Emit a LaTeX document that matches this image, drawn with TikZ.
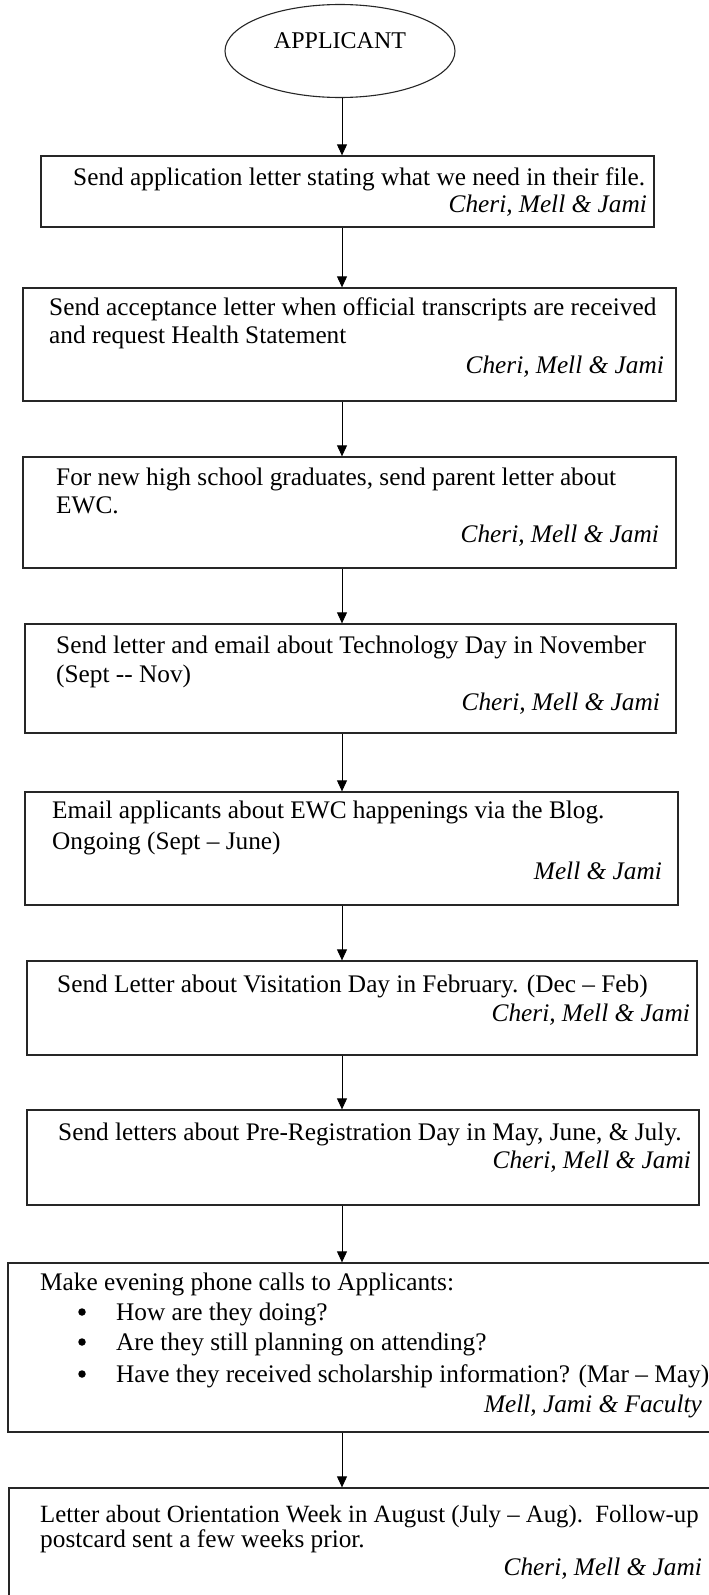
\documentclass[tikz,border=0pt]{standalone}
\usepackage{fontspec}
\setmainfont{Liberation Serif}
\usetikzlibrary{arrows.meta,shapes.geometric,fit}
\begin{document}
\begin{tikzpicture}[x=1pt,y=-1pt,
  stepbox/.style={draw=black!85, line width=1.3pt, rectangle, inner sep=0pt, fit={#1}},
  body/.style={font=\fontsize{25.3}{28}\selectfont, inner sep=0pt, anchor=base west},
  who/.style={font=\fontsize{25.3}{28}\selectfont\itshape, inner sep=0pt, anchor=base east},
  dot/.style={circle, fill=black, inner sep=0pt, minimum size=7.5pt},
  flow/.style={draw=black, line width=0.9pt, -{Triangle[length=11pt,width=10pt]}}]

% page area
\fill[white] (0,0) rectangle (709,1595);
\useasboundingbox (0,0) rectangle (709,1595);
\clip (0,0) rectangle (709,1595);

% start terminal
\node[ellipse, draw=black!85, line width=1.1pt, minimum width=230pt, minimum height=93pt,
      inner sep=0pt, font=\fontsize{24}{28}\selectfont] (app) at (340,51) {\raisebox{20pt}{APPLICANT}};

% step 1
\node[stepbox={(41,156) (654,227)}] (b1) {};
\node[body] (b1a) at (73,185) {Send application letter stating what we need in their file.};
\node[who]  (b1w) at (647,212) {Cheri, Mell \& Jami};

% step 2
\node[stepbox={(23,288) (676,401)}] (b2) {};
\node[body] (b2a) at (49,315) {Send acceptance letter when official transcripts are received};
\node[body] (b2b) at (49,343) {and request Health Statement};
\node[who]  (b2w) at (664,373) {Cheri, Mell \& Jami};

% step 3
\node[stepbox={(23,457) (676,568)}] (b3) {};
\node[body] (b3a) at (56,485) {For new high school graduates, send parent letter about};
\node[body] (b3b) at (56,513) {EWC.};
\node[who]  (b3w) at (659,542) {Cheri, Mell \& Jami};

% step 4
\node[stepbox={(25,624) (676,733)}] (b4) {};
\node[body] (b4a) at (56,653) {Send letter and email about Technology Day in November};
\node[body] (b4b) at (56,682) {(Sept -{}- Nov)};
\node[who]  (b4w) at (660,710) {Cheri, Mell \& Jami};

% step 5
\node[stepbox={(25,792) (678,905)}] (b5) {};
\node[body] (b5a) at (52,818) {Email applicants about EWC happenings via the Blog.};
\node[body] (b5b) at (52,849) {Ongoing (Sept – June)};
\node[who]  (b5w) at (662,879) {Mell \& Jami};

% step 6
\node[stepbox={(27,961) (697,1055)}] (b6) {};
\node[body] (b6a) at (57,992) {Send Letter about Visitation Day in February. (Dec – Feb)};
\node[who]  (b6w) at (690,1021) {Cheri, Mell \& Jami};

% step 7
\node[stepbox={(27,1110) (699,1205)}] (b7) {};
\node[body] (b7a) at (58,1140) {Send letters about Pre-Registration Day in May, June, \& July.};
\node[who]  (b7w) at (691,1168) {Cheri, Mell \& Jami};

% step 8
\node[stepbox={(8,1263) (724,1432)}] (b8) {};
\node[body] (b8a) at (40,1290) {Make evening phone calls to Applicants:};
\node[dot]  (b8d1) at (82,1312) {};
\node[body] (b8b) at (116,1320) {How are they doing?};
\node[dot]  (b8d2) at (82,1342) {};
\node[body] (b8c) at (116,1350) {Are they still planning on attending?};
\node[dot]  (b8d3) at (82,1374) {};
\node[body] (b8d) at (116,1382) {Have they received scholarship information? (Mar – May)};
\node[who]  (b8w) at (702,1412) {Mell, Jami \& Faculty};

% step 9
\node[stepbox={(9,1488) (724,1610)}] (b9) {};
\node[body, font=\fontsize{24.8}{28}\selectfont] (b9a) at (40,1522) {Letter about Orientation Week in August (July – Aug).\ \ Follow-up};
\node[body] (b9b) at (40,1547) {postcard sent a few weeks prior.};
\node[who]  (b9w) at (702,1575) {Cheri, Mell \& Jami};

% connectors
\coordinate (spine) at (342,0);
\draw[flow] (app.south -| spine) -- (b1.north -| spine);
\draw[flow] (b1.south -| spine) -- (b2.north -| spine);
\draw[flow] (b2.south -| spine) -- (b3.north -| spine);
\draw[flow] (b3.south -| spine) -- (b4.north -| spine);
\draw[flow] (b4.south -| spine) -- (b5.north -| spine);
\draw[flow] (b5.south -| spine) -- (b6.north -| spine);
\draw[flow] (b6.south -| spine) -- (b7.north -| spine);
\draw[flow] (b7.south -| spine) -- (b8.north -| spine);
\draw[flow] (b8.south -| spine) -- (b9.north -| spine);
\end{tikzpicture}
\end{document}
